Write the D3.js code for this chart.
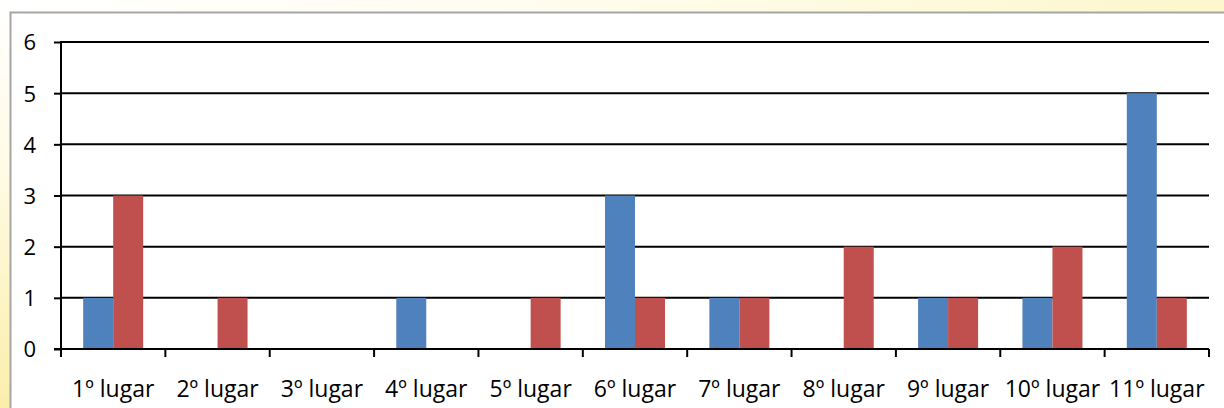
<!DOCTYPE html>
<html><head><meta charset="utf-8">
<script src="https://cdn.jsdelivr.net/npm/d3@7"></script>
<style>
html,body{margin:0;padding:0;width:1224px;height:408px;overflow:hidden;}
body{background:linear-gradient(100deg,#ffffff 0%,#fffdf0 40%,#fdf6c8 100%);}
svg{position:absolute;left:0;top:0;}
text{font-family:"Open Sans",sans-serif;fill:#000;}
</style></head>
<body>
<script>
const categories = ["1º lugar","2º lugar","3º lugar","4º lugar","5º lugar","6º lugar","7º lugar","8º lugar","9º lugar","10º lugar","11º lugar"];
const seriesBlue = [1,0,0,1,0,3,1,0,1,1,5];
const seriesRed  = [3,1,0,0,1,1,1,2,1,2,1];
const yTicks = [0,1,2,3,4,5,6];

const W = 1224, H = 408;
const svg = d3.select("body").append("svg").attr("width", W).attr("height", H);

const defs = svg.append("defs");
const lg = defs.append("linearGradient").attr("id","lg").attr("x1",0).attr("y1",0).attr("x2",0).attr("y2",1);
lg.append("stop").attr("offset","0%").attr("stop-color","#ffffff");
lg.append("stop").attr("offset","40%").attr("stop-color","#fffbe6");
lg.append("stop").attr("offset","100%").attr("stop-color","#fbeeab");
svg.append("rect").attr("x",0).attr("y",0).attr("width",10).attr("height",H).attr("fill","url(#lg)");

svg.append("rect").attr("x",10.5).attr("y",12.5).attr("width",W+20).attr("height",H+20)
  .attr("fill","#fff").attr("stroke","#a6a6a6").attr("stroke-width",2);

const x0 = 61, x1 = 1209, yTop = 42, yBot = 349;
const x = d3.scaleBand().domain(categories).range([x0, x1]).paddingInner(0).paddingOuter(0);
const y = d3.scaleLinear().domain([0, 6]).range([yBot, yTop]);
const barW = 30;

svg.append("g").selectAll("line").data(yTicks.filter(d => d > 0)).join("line")
  .attr("x1", x0).attr("x2", x1).attr("y1", d => y(d)).attr("y2", d => y(d))
  .attr("stroke", "#000").attr("stroke-width", 2);

const g = svg.append("g");
g.selectAll("rect.b").data(seriesBlue).join("rect").attr("class","b")
  .attr("x", (d,i) => x(categories[i]) + x.bandwidth()/2 - barW)
  .attr("width", barW)
  .attr("y", d => y(d)).attr("height", d => y(0) - y(d))
  .attr("fill", "#4f81bd");
g.selectAll("rect.r").data(seriesRed).join("rect").attr("class","r")
  .attr("x", (d,i) => x(categories[i]) + x.bandwidth()/2)
  .attr("width", barW)
  .attr("y", d => y(d)).attr("height", d => y(0) - y(d))
  .attr("fill", "#c0504d");

const yAxis = d3.axisLeft(y).tickValues(yTicks).tickSize(7).tickFormat(d3.format("d"));
const ya = svg.append("g").attr("transform", `translate(${x0},0)`).call(yAxis);
ya.select(".domain").remove();
ya.selectAll(".tick line").attr("stroke","#000").attr("stroke-width",2);
ya.selectAll(".tick text").attr("x", -25).attr("dy","0.36em").attr("font-size","22px")
  .style("font-family","'Open Sans',sans-serif");
svg.append("line").attr("x1",x0).attr("x2",x0).attr("y1",yTop-1).attr("y2",yBot+1)
  .attr("stroke","#000").attr("stroke-width",2);

const xTickScale = d3.scaleLinear().domain([0, categories.length]).range([x0, x1]);
svg.append("g").selectAll("line").data(d3.range(categories.length + 1)).join("line")
  .attr("x1", d => xTickScale(d)).attr("x2", d => xTickScale(d))
  .attr("y1", yBot).attr("y2", yBot + 8)
  .attr("stroke","#000").attr("stroke-width",2);
svg.append("line").attr("x1",x0-7).attr("x2",x1).attr("y1",yBot).attr("y2",yBot)
  .attr("stroke","#000").attr("stroke-width",2);
svg.append("g").selectAll("text").data(categories).join("text")
  .attr("x", d => x(d) + x.bandwidth()/2).attr("y", 397)
  .attr("text-anchor","middle").attr("font-size","23px").text(d => d);
</script>
</body></html>
